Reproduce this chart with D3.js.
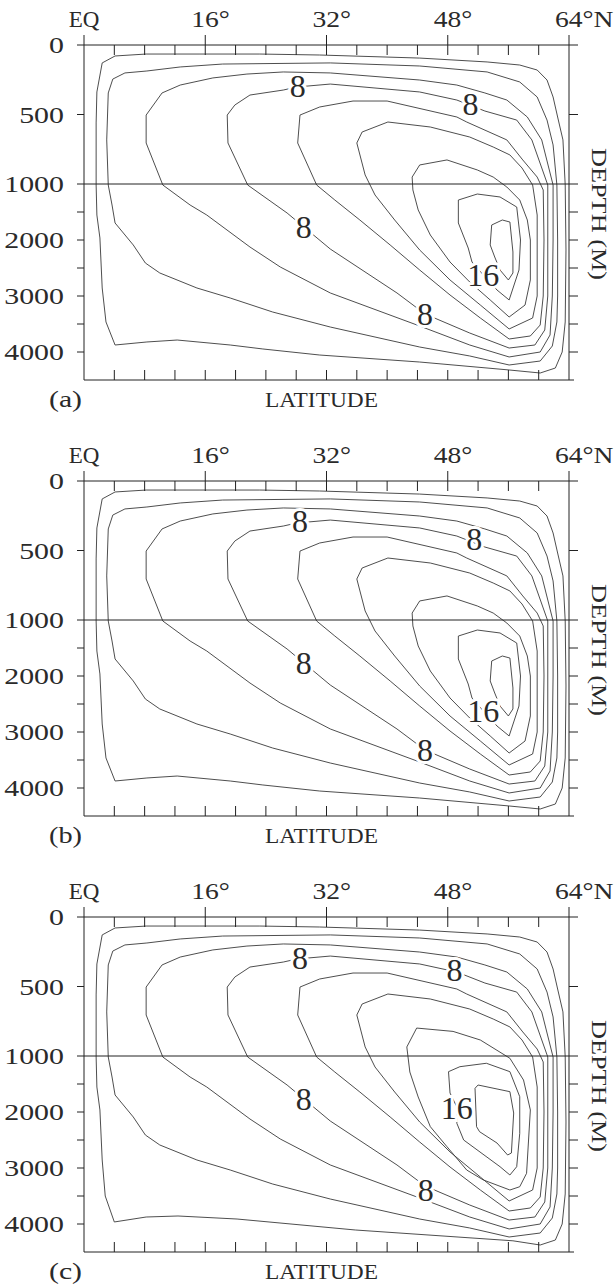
<!DOCTYPE html>
<html>
<head>
<meta charset="utf-8">
<script src="https://cdn.jsdelivr.net/npm/d3@7"></script>
<style>
body { margin: 0; background: #fff; }
svg text { font-family: "Liberation Serif", serif; fill: #2a2a2a; }
</style>
</head>
<body>
<svg id="viz" width="616" height="1287"></svg>
<script>
// contour levels (Sv), 2 apart
var levels = [2, 4, 6, 8, 10, 12, 14, 16, 18];

var depthLabels = [0, 500, 1000, 2000, 3000, 4000];
var depthTicks = [500, 1500, 2000, 2500, 3000, 3500, 4000];
var latMinor = [4, 8, 12, 16, 20, 24, 28, 32, 36, 40, 44, 48, 52, 56, 60];
var latMajor = [16, 32, 48];
var latLabels = [
    {lat: 0, text: "EQ"},
    {lat: 16, text: "16°"},
    {lat: 32, text: "32°"},
    {lat: 48, text: "48°"},
    {lat: 64, text: "64°N"}
];
var panelNames = ["(a)", "(b)", "(c)"];

// each contour: closed loop of [latitude, depth m], outermost (2) first
var contoursA = [
    [[2.4,129],[4.1,79],[8.2,65],[15.3,65],[23.2,65],[31.1,72],[44.3,94],[53.2,122],[57.5,144],[59.8,180],[61.1,252],[61.9,374],[62.5,518],[63.2,683],[63.5,1018],[63.6,2179],[63.5,3464],[63.1,4000],[62.2,4286],[60.2,4375],[56.1,4321],[44.3,4179],[31.1,4054],[23.6,3946],[19.3,3875],[12.3,3786],[8.3,3821],[4.1,3875],[2.9,3464],[2.4,2857],[2.1,1964],[1.7,1554],[1.6,1018],[1.6,561],[1.7,338]],
    [[3.0,683],[3.2,345],[3.8,245],[5.4,201],[8.3,187],[12.7,158],[18.3,137],[32.5,129],[44.3,151],[53.2,194],[57.5,266],[59.8,374],[61.1,540],[61.9,719],[62.4,1018],[62.5,2000],[62.5,3000],[62.4,3464],[61.8,3893],[60.2,4161],[56.1,4232],[50.9,4071],[44.3,3911],[32.5,3554],[24.9,3286],[19.3,3036],[14.9,2857],[10.0,2589],[8.1,2411],[6.5,2089],[4.1,1696],[3.7,1375],[3.2,1018]],
    [[8.2,504],[8.2,705],[10.4,1018],[14.0,1375],[16.2,1554],[21.9,2125],[25.9,2482],[32.5,2946],[44.3,3536],[50.9,3875],[56.1,4089],[60.2,4000],[61.5,3696],[61.8,3000],[61.9,2000],[61.9,1018],[60.4,683],[58.5,518],[55.8,396],[52.9,345],[49.2,288],[44.3,252],[32.5,201],[26.3,194],[21.5,209],[17.0,237],[12.7,288],[10.3,345]],
    [[18.9,504],[19.0,705],[21.6,1018],[26.8,1518],[32.5,2161],[41.3,2946],[45.0,3321],[50.9,3661],[56.1,3929],[59.5,3875],[60.8,3607],[61.2,3000],[61.2,2000],[61.2,1018],[59.1,683],[57.1,540],[52.9,475],[49.2,396],[44.3,338],[32.5,281],[28.1,302],[26.3,324],[21.9,360],[19.9,432]],
    [[28.5,504],[31.1,446],[35.5,403],[40.0,403],[49.2,518],[50.5,554],[55.8,683],[57.9,827],[59.8,950],[60.6,1107],[60.7,2000],[60.6,3000],[60.2,3518],[58.9,3714],[56.1,3768],[52.3,3393],[48.3,2982],[44.3,2536],[40.4,2089],[36.4,1643],[33.1,1286],[30.7,1018],[28.2,705]],
    [[36.0,705],[36.7,626],[40.1,554],[45.7,590],[50.9,662],[54.0,734],[56.2,791],[57.8,885],[59.2,1018],[59.8,1554],[59.8,3000],[59.2,3393],[56.1,3589],[52.3,3161],[48.3,2714],[44.3,2179],[41.0,1643],[38.4,1196],[37.1,935]],
    [[43.3,950],[44.3,863],[47.9,827],[51.9,899],[54.0,950],[55.8,1054],[57.5,1286],[58.5,1643],[58.9,2000],[58.9,2714],[58.2,3161],[56.1,3375],[53.6,3071],[50.9,2750],[48.3,2393],[45.7,1911],[44.1,1464],[43.4,1107]],
    [[49.4,1286],[51.9,1179],[54.9,1232],[57.1,1411],[57.6,2000],[57.4,2536],[56.1,3071],[54.5,2893],[52.7,2625],[51.2,2393],[50.7,2143],[49.4,1696]],
    [[53.8,1732],[55.2,1643],[56.2,1679],[56.6,2214],[56.6,2589],[56.0,2714],[54.9,2536],[54.2,2304],[53.6,2089]]
];
var labelsA = [[28.2,295,"8"],[51.0,424,"8"],[29.0,1768,"8"],[45.0,3321,"8"],[52.7,2625,"16"]];

var contoursB = contoursA;
var labelsB = [[28.5,288,"8"],[51.5,417,"8"],[29.0,1768,"8"],[45.0,3321,"8"],[52.7,2625,"16"]];

// panel (c): outer loop sits a little deeper, centre core larger and shifted west/up
var c2 = [[2.4,129],[4.1,79],[8.2,65],[15.3,65],[23.2,65],[31.1,72],[44.3,94],[53.2,122],[57.5,144],[59.8,180],[61.1,252],[61.9,374],[62.5,518],[63.2,683],[63.5,1018],[63.6,2179],[63.5,3464],[63.1,4000],[62.2,4286],[60.2,4375],[56.6,4300],[35.8,4107],[20.2,3911],[12.4,3857],[8.2,3875],[4.0,3964],[2.8,3500],[2.4,2857],[2.1,1964],[1.7,1554],[1.6,1018],[1.6,561],[1.7,338]];
var c14 = [[42.6,935],[43.9,799],[48.7,823],[52.3,885],[56.2,1041],[58.0,1429],[58.9,1964],[58.4,3095],[57.5,3334],[56.2,3393],[52.7,3214],[50.5,3036],[47.9,2620],[45.7,2262],[44.1,1732],[43.0,1286]];
var c16 = [[48.1,1280],[49.6,1191],[53.1,1130],[56.2,1280],[57.5,1727],[57.5,2380],[57.1,2977],[56.2,3125],[54.9,2977],[50.1,2500],[49.2,2202],[49.2,1911],[48.3,1661]];
var c18 = [[52.0,1518],[56.2,1637],[56.7,2018],[56.4,2732],[55.9,2768],[54.5,2554],[52.2,2352],[51.8,2262],[51.6,1577]];
var contoursC = [c2].concat(contoursA.slice(1, 6), [c14, c16, c18]);
var labelsC = [[28.5,295,"8"],[48.9,382,"8"],[29.0,1768,"8"],[45.1,3393,"8"],[49.2,1929,"16"]];

var panels = [
    {name: panelNames[0], contours: contoursA, labels: labelsA, top: 0},
    {name: panelNames[1], contours: contoursB, labels: labelsB, top: 436},
    {name: panelNames[2], contours: contoursC, labels: labelsC, top: 872}
];

var svg = d3.select("#viz");

var x = d3.scaleLinear().domain([0, 64]).range([84, 569]);
var y = d3.scaleLinear().domain([0, 1000, 4500]).range([45, 184, 380]);

var line = d3.line()
    .x(function(d){ return x(d[0]); })
    .y(function(d){ return y(d[1]); })
    .curve(d3.curveLinearClosed);

function hline(g, x1, x2, yy){
    g.append("line").attr("x1", x1).attr("x2", x2).attr("y1", yy).attr("y2", yy)
        .attr("stroke", "#222").attr("stroke-width", 1);
}
function vline(g, xx, y1, y2){
    g.append("line").attr("x1", xx).attr("x2", xx).attr("y1", y1).attr("y2", y2)
        .attr("stroke", "#222").attr("stroke-width", 1);
}

function drawPanel(p){
    var g = svg.append("g").attr("transform", "translate(0," + p.top + ")");
    var y0 = y(0), yb = y(4500), x0 = x(0), x1 = x(64);

    // contours
    g.selectAll(".contour").data(p.contours)
        .enter()
        .append("path")
        .attr("class", "contour")
        .attr("d", line)
        .attr("fill", "none")
        .attr("stroke", "#3a3a3a")
        .attr("stroke-width", 0.9);

    // frame
    hline(g, x0 - 7, x1 + 9, y0);
    hline(g, x0 - 7, x1 + 9, y(1000));
    hline(g, x0, x1 + 5, yb);
    vline(g, x0, y0 - 10, yb);
    vline(g, x1, y0 - 10, yb);

    latMinor.forEach(function(l){
        var big = latMajor.indexOf(l) >= 0;
        vline(g, x(l), big ? y0 - 10 : y0, y0 + 10);
        vline(g, x(l), yb - 10, yb);
    });
    depthTicks.forEach(function(d){
        hline(g, x0 - 7, x0, y(d));
        hline(g, x1, x1 + 9, y(d));
    });

    // depth labels
    g.selectAll(".dlab").data(depthLabels)
        .enter()
        .append("text")
        .attr("class", "dlab")
        .attr("transform", function(d){ return "translate(64," + (y(d) + 8) + ") scale(1.3,1)"; })
        .attr("text-anchor", "end")
        .style("font-size", "23px")
        .text(function(d){ return d; });

    // latitude labels
    g.selectAll(".llab").data(latLabels)
        .enter()
        .append("text")
        .attr("class", "llab")
        .attr("transform", function(d){
            if(d.lat === 0) return "translate(" + x(0) + ",27)";
            return "translate(" + (x(d.lat) - 14) + ",27) scale(1.2,1)";
        })
        .attr("text-anchor", function(d){ return d.lat === 0 ? "middle" : "start"; })
        .style("font-size", "23px")
        .text(function(d){ return d.text; });

    g.append("text")
        .attr("x", 49).attr("y", 407)
        .attr("textLength", 33).attr("lengthAdjust", "spacingAndGlyphs")
        .style("font-size", "23px")
        .text(p.name);

    g.append("text")
        .attr("x", 265).attr("y", 407)
        .attr("textLength", 113).attr("lengthAdjust", "spacingAndGlyphs")
        .style("font-size", "22px")
        .text("LATITUDE");

    g.append("text")
        .attr("transform", "translate(592,214) rotate(90)")
        .attr("text-anchor", "middle")
        .attr("textLength", 132).attr("lengthAdjust", "spacingAndGlyphs")
        .style("font-size", "22px")
        .text("DEPTH (M)");

    // contour labels, white halo breaks the line
    g.selectAll(".clab").data(p.labels)
        .enter()
        .append("text")
        .attr("class", "clab")
        .attr("x", function(d){ return x(d[0]); })
        .attr("y", function(d){ return y(d[1]) + 11; })
        .attr("text-anchor", "middle")
        .style("font-size", "32px")
        .style("paint-order", "stroke")
        .attr("stroke", "#fff")
        .attr("stroke-width", 6)
        .text(function(d){ return d[2]; });
}

panels.forEach(drawPanel);
</script>
</body>
</html>
